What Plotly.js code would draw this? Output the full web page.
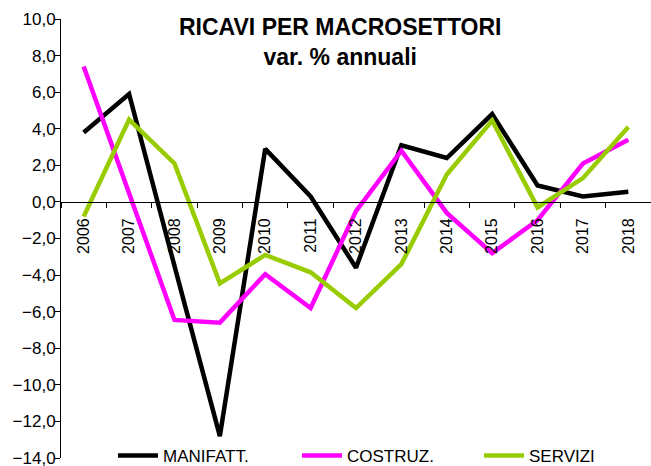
<!DOCTYPE html>
<html>
<head>
<meta charset="utf-8">
<script src="https://cdn.plot.ly/plotly-3.0.1.min.js"></script>
<style>html,body{margin:0;padding:0;background:#fff;}#chart{width:651px;height:466px;}</style>
</head>
<body>
<div id="chart"></div>
<script>
var years = ['2006','2007','2008','2009','2010','2011','2012','2013','2014','2015','2016','2017','2018'];
var manifatt = [3.8, 5.9, -3.5, -12.8, 2.9, 0.3, -3.6, 3.1, 2.4, 4.8, 0.9, 0.3, 0.55];
var costruz = [7.4, 0.5, -6.45, -6.6, -3.95, -5.8, -0.5, 2.8, -0.6, -2.8, -1.0, 2.1, 3.4];
var servizi = [-0.8, 4.5, 2.1, -4.45, -2.9, -3.85, -5.8, -3.4, 1.5, 4.45, -0.3, 1.3, 4.1];
var seriesNames = ['MANIFATT.', 'COSTRUZ.', 'SERVIZI'];
var titleText = '<b>RICAVI PER MACROSETTORI<br>var. % annuali</b>';
var yMin = -14, yMax = 10;

var colors = ['#000000', '#FF00FF', '#99CC00'];
var legendIds = ['legend', 'legend2', 'legend3'];
var legendX = [113, 297, 479];

var data = [manifatt, costruz, servizi].map(function (vals, i) {
  return {
    x: years, y: vals, type: 'scatter', mode: 'lines',
    name: seriesNames[i],
    legend: legendIds[i],
    line: {color: colors[i], width: 4.5},
    hoverinfo: 'skip'
  };
});

var layout = {
  width: 651, height: 466,
  margin: {l: 61, r: 0, t: 19, b: 8, pad: 0, autoexpand: false},
  paper_bgcolor: '#ffffff', plot_bgcolor: '#ffffff',
  separators: ',.',
  font: {family: 'Liberation Sans, Arial, sans-serif', color: '#000000'},
  showlegend: true,
  annotations: [{
    text: titleText,
    xref: 'paper', yref: 'paper',
    x: (340 - 61) / 590, xanchor: 'center',
    y: 1 + 7 / 439, yanchor: 'top',
    showarrow: false,
    font: {size: 23, family: 'Liberation Sans, Arial, sans-serif', color: '#000'}
  }],
  xaxis: {
    type: 'category',
    categoryorder: 'array', categoryarray: years,
    range: [-0.5, 12.5],
    anchor: 'free',
    position: (0 - yMin) / (yMax - yMin),
    showline: true, linecolor: '#000', linewidth: 1,
    ticks: 'outside', tickson: 'boundaries', ticklen: 5, tickcolor: '#000', tickwidth: 1,
    tickangle: -90,
    ticklabelstandoff: 9,
    tickfont: {size: 16, color: '#000'},
    showgrid: false, zeroline: false,
    fixedrange: true
  },
  yaxis: {
    range: [yMin, yMax],
    dtick: 2, tick0: 0,
    tickformat: '.1f',
    showline: true, linecolor: '#000', linewidth: 1,
    ticks: 'outside', ticklen: 5, tickcolor: '#000', tickwidth: 1,
    ticklabelstandoff: -4,
    ticklabeloverflow: 'allow',
    tickfont: {size: 17, color: '#000'},
    showgrid: false, zeroline: false,
    fixedrange: true
  }
};

legendIds.forEach(function (id, i) {
  layout[id] = {
    orientation: 'h',
    xref: 'container', yref: 'container',
    x: legendX[i] / 651, xanchor: 'left',
    y: 10 / 466, yanchor: 'middle',
    bgcolor: 'rgba(0,0,0,0)',
    font: {size: 17, color: '#000'},
    itemwidth: 40
  };
});

Plotly.newPlot('chart', data, layout, {displayModeBar: false, staticPlot: true});
</script>
</body>
</html>
